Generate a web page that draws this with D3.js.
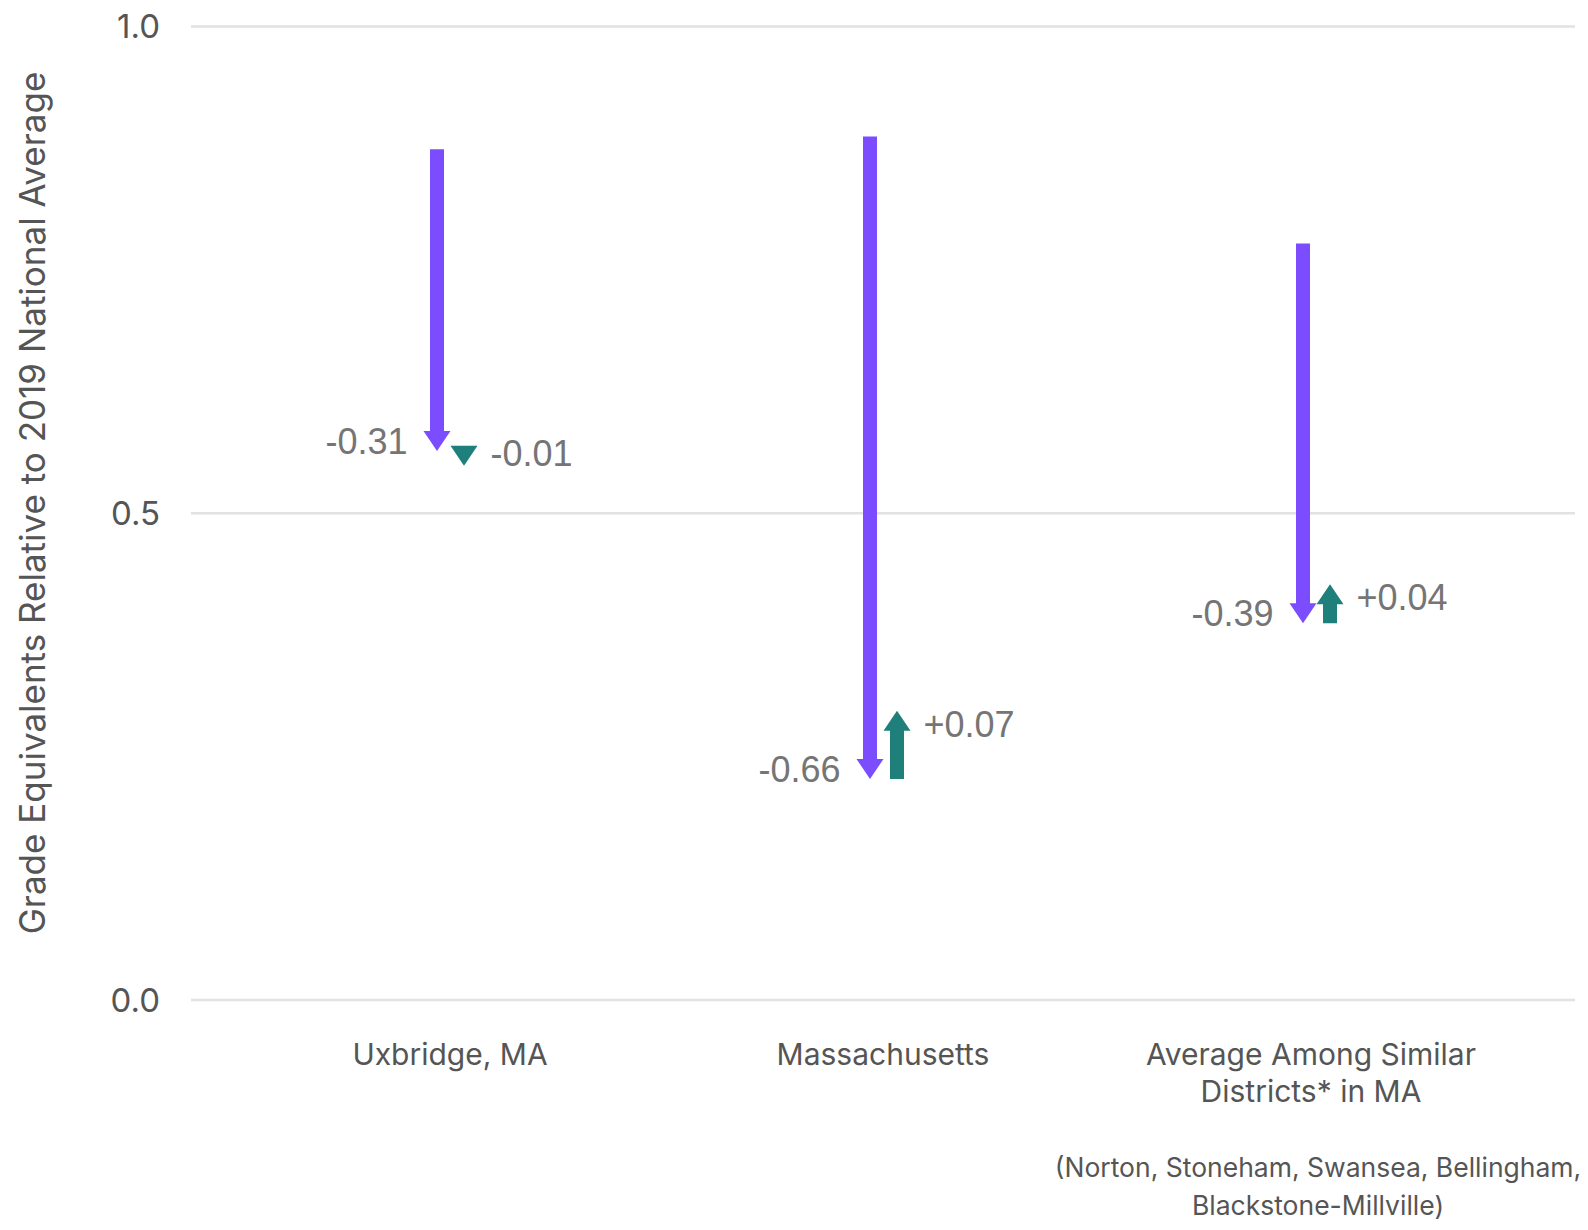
<!DOCTYPE html>
<html lang="en">
<head>
<meta charset="utf-8">
<title>Grade equivalents</title>
<script src="https://cdn.jsdelivr.net/npm/d3@7/dist/d3.min.js"></script>
<style>
  body { margin: 0; background: #fff; }
  text { font-family: Inter, "Noto Sans", sans-serif; }
  text.change { font-family: "Liberation Sans", Arial, sans-serif; }
</style>
</head>
<body>
<script>
var width = 1588;
var height = 1230;

// data
var categories = ["Uxbridge, MA", "Massachusetts", "Average Among Similar Districts* in MA"];
var categoryLines = [["Uxbridge, MA"], ["Massachusetts"], ["Average Among Similar", "Districts* in MA"]];
var startValues = [0.874, 0.887, 0.777];
var firstChange = [-0.31, -0.66, -0.39];
var secondChange = [-0.01, 0.07, 0.04];
var yTicks = [0.0, 0.5, 1.0];
var footnote = ["(Norton, Stoneham, Swansea, Bellingham,", "Blackstone-Millville)"];

var purple = "#7c4dff";
var teal = "#1f807b";

var svg = d3.select("body").append("svg")
  .attr("width", width)
  .attr("height", height);

var y = d3.scaleLinear().domain([0, 1]).range([1000, 26.5]);
var x = d3.scaleBand().domain(categories).range([233.5, 1532.5]);

// gridlines + tick labels
svg.selectAll("line.grid")
  .data(yTicks)
  .enter()
  .append("line")
  .attr("x1", 191)
  .attr("x2", 1575)
  .attr("y1", function(d) { return y(d); })
  .attr("y2", function(d) { return y(d); })
  .attr("stroke", "#e2e2e2")
  .attr("stroke-width", 2.5);

svg.selectAll("text.tick")
  .data(yTicks)
  .enter()
  .append("text")
  .attr("x", 160)
  .attr("y", function(d) { return y(d); })
  .attr("dy", "0.36em")
  .attr("text-anchor", "end")
  .attr("font-size", 33)
  .attr("fill", "#555")
  .text(function(d) { return d3.format(".1f")(d); });

// y axis title
svg.append("text")
  .attr("transform", "translate(45,503) rotate(-90)")
  .attr("text-anchor", "middle")
  .attr("font-size", 35)
  .attr("fill", "#555")
  .text("Grade Equivalents Relative to 2019 National Average");

// arrow as a polygon: shaft then head
var shaftW = 14, headW = 27, headL = 20;
function arrowPath(cx, ya, yb) {
  var dir = yb > ya ? 1 : -1;
  var len = Math.abs(yb - ya);
  if (len < headL) {
    // too short for a shaft, only draw the head round the midpoint
    var mid = (ya + yb) / 2;
    ya = mid - dir * headL / 2;
    yb = mid + dir * headL / 2;
    return "M" + (cx - headW / 2) + "," + ya + "L" + (cx + headW / 2) + "," + ya + "L" + cx + "," + yb + "Z";
  }
  var yh = yb - dir * headL;
  return "M" + (cx - shaftW / 2) + "," + ya +
    "L" + (cx + shaftW / 2) + "," + ya +
    "L" + (cx + shaftW / 2) + "," + yh +
    "L" + (cx + headW / 2) + "," + yh +
    "L" + cx + "," + yb +
    "L" + (cx - headW / 2) + "," + yh +
    "L" + (cx - shaftW / 2) + "," + yh + "Z";
}

function fmt(v) { return (v > 0 ? "+" : "") + v.toFixed(2); }

categories.forEach(function(c, i) {
  var cx = x(c) + x.bandwidth() / 2;
  var mid = startValues[i] + firstChange[i];
  var end = mid + secondChange[i];
  var px = cx - 13, tx = cx + 14;

  svg.append("path")
    .attr("d", arrowPath(px, y(startValues[i]), y(mid)))
    .attr("fill", purple);

  svg.append("path")
    .attr("d", arrowPath(tx, y(mid), y(end)))
    .attr("fill", teal);

  svg.append("text")
    .attr("class", "change")
    .attr("x", px - headW / 2 - 16)
    .attr("y", y(mid) + 3)
    .attr("text-anchor", "end")
    .attr("font-size", 36)
    .attr("fill", "#757575")
    .text(fmt(firstChange[i]));

  var lbY = secondChange[i] > 0 ? y(end) + 26 : y(end);
  if (Math.abs(y(end) - y(mid)) < headL) lbY = y(mid) + 15;
  svg.append("text")
    .attr("class", "change")
    .attr("x", tx + headW / 2 + 13)
    .attr("y", lbY)
    .attr("font-size", 36)
    .attr("fill", "#757575")
    .text(fmt(secondChange[i]));

  categoryLines[i].forEach(function(line, j) {
    svg.append("text")
      .attr("x", cx - (i == 2 ? 5 : 0))
      .attr("y", 1065 + j * 37)
      .attr("text-anchor", "middle")
      .attr("font-size", 30)
      .attr("fill", "#555")
      .text(line);
  });
});

footnote.forEach(function(line, j) {
  svg.append("text")
    .attr("x", 1318)
    .attr("y", 1177 + j * 38)
    .attr("text-anchor", "middle")
    .attr("font-size", 26.5)
    .attr("fill", "#555")
    .text(line);
});
</script>
</body>
</html>
